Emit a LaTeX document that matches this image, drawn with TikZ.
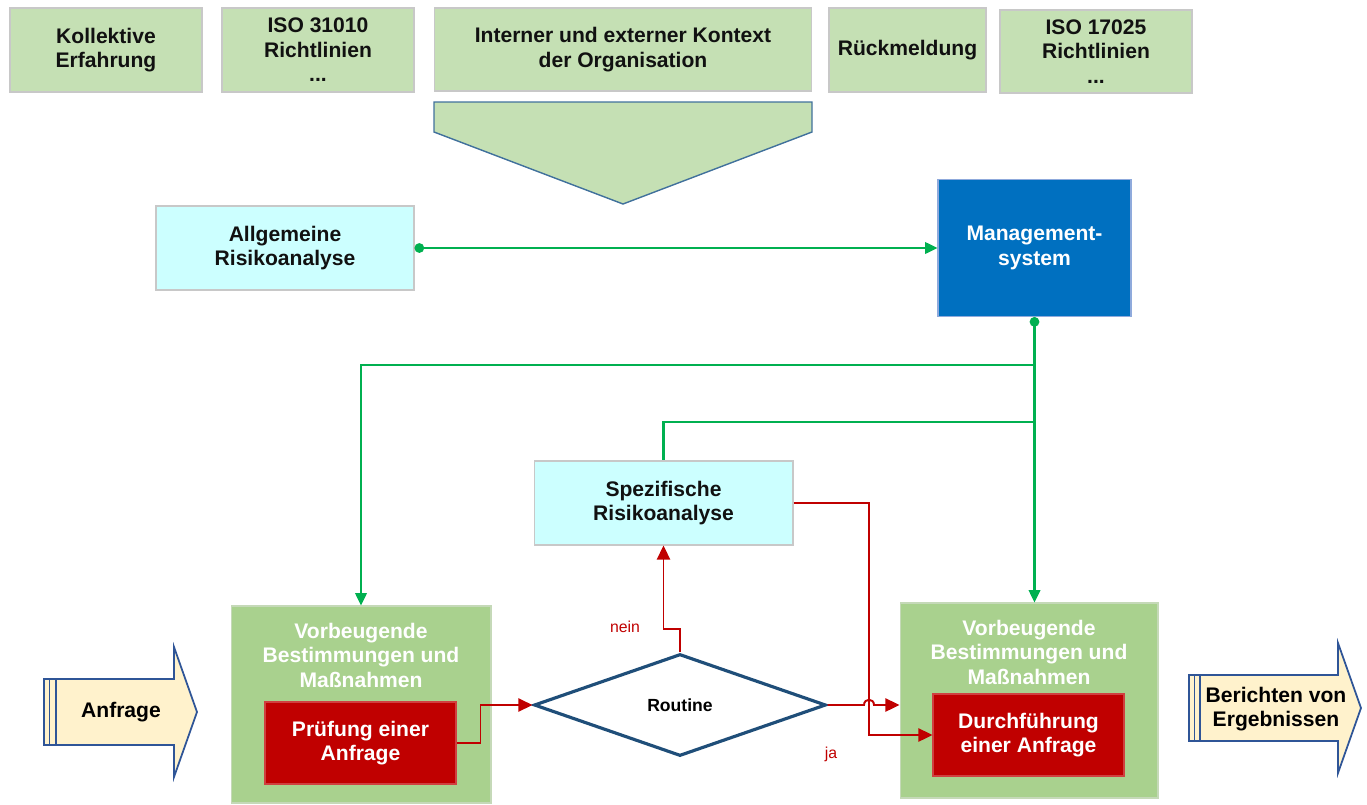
\documentclass[tikz,border=0pt]{standalone}
\usepackage{fontspec}
\setmainfont{Liberation Sans}
\usepackage{xcolor}
\usetikzlibrary{positioning,shapes.geometric,arrows.meta}

\definecolor{topgreen}{HTML}{C5E0B4}
\definecolor{penedge}{HTML}{41719C}
\definecolor{boxgray}{HTML}{C8C8C8}
\definecolor{riskcyan}{HTML}{CCFFFF}
\definecolor{mgmtblue}{HTML}{0070C0}
\definecolor{mgmtedge}{HTML}{8FAADC}
\definecolor{measgreen}{HTML}{A9D18E}
\definecolor{measedge}{HTML}{C5D9B8}
\definecolor{taskred}{HTML}{C00000}
\definecolor{taskedge}{HTML}{D04040}
\definecolor{linegreen}{HTML}{00B050}
\definecolor{linered}{HTML}{C00000}
\definecolor{diaedge}{HTML}{1F4E79}
\definecolor{ioyellow}{HTML}{FFF2CC}
\definecolor{ioedge}{HTML}{2F5597}
\definecolor{textdark}{HTML}{111111}

\tikzset{
  box/.style={rectangle, draw=boxgray, line width=0.6pt, align=center, inner sep=0pt,
    font=\fontsize{12}{14}\selectfont\bfseries, text=textdark},
  topbox/.style={box, fill=topgreen},
  riskbox/.style={box, fill=riskcyan},
  mgmtbox/.style={box, fill=mgmtblue, draw=mgmtedge, text=white},
  measbox/.style={box, fill=measgreen, draw=measedge},
  meastext/.style={align=center, inner sep=0pt, text=white,
    font=\fontsize{12}{14}\selectfont\bfseries},
  taskbox/.style={box, fill=taskred, draw=taskedge, text=white},
  decision/.style={diamond, draw=diaedge, line width=1.8pt, fill=white, inner sep=0pt,
    aspect=2.86, minimum width=5.84cm, minimum height=2.04cm,
    font=\fontsize{10}{12}\selectfont\bfseries},
  gline/.style={draw=linegreen, line width=1.2pt},
  rline/.style={draw=linered, line width=1.1pt, >={Triangle[length=8pt,width=7.5pt]}},
  answer/.style={text=linered, inner sep=0pt, font=\fontsize{9}{11}\selectfont},
  iobox/.style={draw=ioedge, fill=ioyellow, line width=1pt, line join=miter},
  iotext/.style={align=center, inner sep=0pt, font=\fontsize{12}{14}\selectfont\bfseries}
}

\begin{document}
\begin{tikzpicture}[x=0.02cm, y=-0.02cm, >={Triangle[length=7pt,width=6.5pt]}]
\useasboundingbox (0,0) rectangle (1367,805);

% sources
\node[topbox, minimum width=3.84cm, minimum height=1.68cm] (erf) at (106,50) {Kollektive\\Erfahrung};
\node[topbox, minimum width=3.84cm, minimum height=1.68cm] (isoa) at (318,50) {ISO 31010\\Richtlinien\\...};
\node[topbox, minimum width=7.56cm, minimum height=1.66cm] (ctx) at (623,49.5) {Interner und externer Kontext\\der Organisation};
\node[topbox, minimum width=3.14cm, minimum height=1.68cm] (fb) at (907.5,50) {Rückmeldung};
\node[topbox, minimum width=3.84cm, minimum height=1.66cm] (isob) at (1096,51.5) {ISO 17025\\Richtlinien\\...};
\draw[fill=topgreen, draw=penedge, line width=0.8pt] (434,102) -- (812,102) -- (812,132) -- (623,204) -- (434,132) -- cycle;

% analysis and management
\node[riskbox, minimum width=5.16cm, minimum height=1.68cm] (alg) at (285,248) {Allgemeine\\Risikoanalyse};
\node[mgmtbox, minimum width=3.86cm, minimum height=2.74cm] (mgmt) at (1034.5,248) {Management-\\system};
\node[riskbox, minimum width=5.18cm, minimum height=1.68cm] (spez) at (663.5,503) {Spezifische\\Risikoanalyse};

% measures
\node[measbox, minimum width=5.2cm, minimum height=3.94cm] (lgb) at (361,704.5) {};
\node[meastext, below=0.34cm of lgb.north] (lgt) {Vorbeugende\\Bestimmungen und\\Maßnahmen};
\node[taskbox, minimum width=3.82cm, minimum height=1.64cm] (pruef) at (360.5,743) {Prüfung einer\\Anfrage};
\node[measbox, minimum width=5.16cm, minimum height=3.9cm] (rgb) at (1029,700.5) {};
\node[meastext, below=0.34cm of rgb.north] (rgt) {Vorbeugende\\Bestimmungen und\\Maßnahmen};
\node[taskbox, minimum width=3.82cm, minimum height=1.64cm] (durch) at (1028.5,735) {Durchführung\\einer Anfrage};
\node[decision] (rout) at (680,705) {Routine};

% input / output
\draw[iobox] (44,679) -- (174,679) -- (174,647) -- (197,712) -- (174,777) -- (174,745) -- (44,745) -- cycle;
\draw[ioedge, line width=1pt] (49.5,679) -- (49.5,745) (56,679) -- (56,745);
\node[iotext] (anf) at (121,712) {Anfrage};
\draw[iobox] (1189,675) -- (1338,675) -- (1338,643) -- (1361,708) -- (1338,773) -- (1338,741) -- (1189,741) -- cycle;
\draw[ioedge, line width=1pt] (1194.5,675) -- (1194.5,741) (1200,675) -- (1200,741);
\node[iotext] (ber) at (1276,709) {Berichten von\\Ergebnissen};

% green connectors
\draw[gline, {Circle[length=5.5pt]}->] (alg.east) -- (mgmt.west);
\path (mgmt.south) ++(0,48) coordinate (ja) ++(0,57) coordinate (jb);
\draw[gline, {Circle[length=5.5pt]}->] (mgmt.south) -- (mgmt.south |- rgb.north);
\draw[gline, ->] (ja) -| (lgb.north);
\draw[gline] (jb) -| (spez.north);

% red connectors
\draw[rline, ->] (pruef.east) -- ++(24,0) |- (rout.west);
\draw[rline, ->] (rout.north) -- ++(0,-23) -| (spez.south);
\draw[rline, ->] (rout.east) -- (864,705) .. controls (864,698) and (874,698) .. (874,705) -- (rgb.west |- rout.east);
\draw[rline, ->] (spez.east) -- (869,503) |- (durch.west);
\node[answer] (nein) at (625,627) {nein};
\node[answer] (jatext) at (831,754) {ja};
\end{tikzpicture}
\end{document}
